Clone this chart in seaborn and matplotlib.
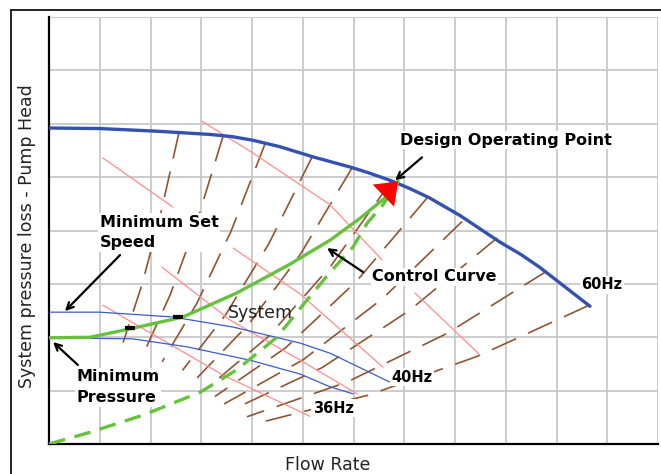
import matplotlib
matplotlib.use("Agg")
import matplotlib.pyplot as plt
import seaborn as sns
from matplotlib.lines import Line2D

# all values in grid units: flow 0..12, head 0..8
pump60_q = [0.0, 1.0, 2.13, 3.17, 3.6, 4.02, 4.55, 5.2, 5.93, 6.3, 6.72, 7.1, 7.5, 8.1, 8.89, 9.3, 9.67, 10.66]
pump60_h = [5.92, 5.91, 5.86, 5.80, 5.76, 5.69, 5.57, 5.38, 5.19, 5.08, 4.94, 4.79, 4.61, 4.28, 3.78, 3.55, 3.31, 2.58]

pump40_q = [0.0, 1.0, 2.44, 3.63, 4.95, 5.54, 6.76]
pump40_h = [2.47, 2.47, 2.38, 2.19, 1.89, 1.70, 1.14]

pump36_q = [0.0, 1.65, 2.72, 3.96, 4.95, 5.54, 5.99]
pump36_h = [1.99, 1.97, 1.82, 1.57, 1.31, 1.07, 0.94]

control_q = [0.0, 0.81, 1.66, 2.64, 3.70, 4.75, 5.54, 6.13, 6.62, 6.88]
control_h = [1.99, 2.00, 2.17, 2.38, 2.83, 3.37, 3.82, 4.23, 4.61, 4.92]

system_q = [0.0, 0.81, 1.85, 2.98, 3.70, 4.49, 5.00, 5.54, 5.99, 6.27, 6.58, 6.88]
system_h = [0.0, 0.22, 0.54, 0.97, 1.39, 2.00, 2.60, 3.22, 3.69, 4.14, 4.48, 4.92]

# brown dashed system curves, listed from the 60Hz curve downwards
sys_curves_q = [
    [2.56, 2.19, 1.83, 1.46],
    [3.43, 2.91, 2.39, 1.87],
    [4.26, 3.58, 2.91, 2.23],
    [5.18, 4.33, 3.48, 2.63],
    [5.97, 4.95, 3.94, 2.92],
    [6.76, 5.55, 4.33, 3.12],
    [7.45, 6.06, 4.66, 3.27],
    [8.14, 6.58, 5.01, 3.45],
    [8.83, 7.10, 5.38, 3.65],
    [9.81, 7.84, 5.87, 3.90],
    [10.62, 8.46, 6.31, 4.15],
]
sys_curves_h = [
    [5.83, 4.27, 2.98, 1.90],
    [5.77, 4.15, 2.80, 1.71],
    [5.63, 3.97, 2.63, 1.54],
    [5.37, 3.75, 2.42, 1.38],
    [5.17, 3.55, 2.25, 1.24],
    [4.94, 3.33, 2.02, 1.05],
    [4.61, 3.05, 1.80, 0.89],
    [4.17, 2.73, 1.58, 0.75],
    [3.86, 2.50, 1.43, 0.66],
    [3.24, 2.07, 1.16, 0.51],
    [2.59, 1.65, 0.92, 0.40],
]

# thin red lines
red_q = [
    [1.06, 2.44],
    [3.01, 4.02, 5.54, 6.56],
    [3.63, 4.95, 6.58],
    [2.23, 3.57, 4.95, 6.07],
    [1.06, 3.43, 5.14],
    [7.21, 8.49],
]
red_h = [
    [5.36, 4.44],
    [6.05, 5.45, 4.48, 3.45],
    [3.67, 2.81, 1.44],
    [3.31, 2.32, 1.57, 0.94],
    [2.60, 1.29, 0.52],
    [2.83, 1.67],
]

mark_q = [1.60, 2.54]
mark_h = [2.17, 2.38]

sns.set_style("white")
plt.rcParams["lines.scale_dashes"] = False
plt.rcParams["font.family"] = ["DejaVu Sans"]

fig = plt.figure(figsize=(6.61, 4.74), dpi=100)
ax = fig.add_axes([49 / 661, 30 / 474, 609 / 661, 427 / 474])

brown = "#8f5530"
for qq, hh in zip(sys_curves_q, sys_curves_h):
    sns.lineplot(x=qq, y=hh, ax=ax, color=brown, linewidth=1.2, sort=False,
                 estimator=None, linestyle=(0, (19, 9.5)), zorder=2)

for qq, hh in zip(red_q, red_h):
    sns.lineplot(x=qq, y=hh, ax=ax, color="#ff8c8c", linewidth=0.9, sort=False,
                 estimator=None, zorder=2)

blue = "#3352b0"
sns.lineplot(x=pump60_q, y=pump60_h, ax=ax, color=blue, linewidth=2.4, sort=False, estimator=None, zorder=4)
sns.lineplot(x=pump40_q, y=pump40_h, ax=ax, color="#3a5cc8", linewidth=0.9, sort=False, estimator=None, zorder=3)
sns.lineplot(x=pump36_q, y=pump36_h, ax=ax, color="#3a5cc8", linewidth=0.9, sort=False, estimator=None, zorder=3)

green = "#66c23d"
sns.lineplot(x=system_q, y=system_h, ax=ax, color=green, linewidth=2.4, sort=False,
             estimator=None, linestyle=(0, (12, 7)), zorder=5)
sns.lineplot(x=control_q, y=control_h, ax=ax, color=green, linewidth=2.4, sort=False,
             estimator=None, zorder=5)
sns.scatterplot(x=mark_q, y=mark_h, ax=ax, color="black", marker="_", s=60,
                linewidth=3, zorder=6)

# red arrow head at the design point
ax.annotate("", xy=(control_q[-1], control_h[-1]), xytext=(control_q[-3], control_h[-3]),
            arrowprops=dict(arrowstyle="-|>,head_length=0.4,head_width=0.3", color="red",
                            lw=0, mutation_scale=37, shrinkA=0, shrinkB=0), zorder=7)

bbox = dict(facecolor="white", edgecolor="none", pad=1)
bold = dict(fontsize=11.5, fontweight="bold", color="black", zorder=8)
arrow = dict(arrowstyle="->", color="black", lw=1.6, mutation_scale=12, shrinkA=0, shrinkB=0)

ax.text(9.0, 5.69, "Design Operating Point", ha="center", va="center", bbox=bbox, **bold)
ax.annotate("", xy=(6.82, 4.94), xytext=(7.35, 5.37), arrowprops=arrow, zorder=8)

ax.text(1.0, 3.96, "Minimum Set\nSpeed", ha="left", va="center", linespacing=1.45, bbox=bbox, **bold)
ax.annotate("", xy=(0.315, 2.49), xytext=(1.40, 3.54), arrowprops=arrow, zorder=8)

ax.text(0.55, 1.06, "Minimum\nPressure", ha="left", va="center", linespacing=1.5, bbox=bbox, **bold)
ax.annotate("", xy=(0.08, 1.91), xytext=(0.57, 1.48), arrowprops=arrow, zorder=8)

ax.text(7.59, 3.13, "Control Curve", ha="center", va="center", bbox=bbox, **bold)
ax.annotate("", xy=(5.48, 3.67), xytext=(6.19, 3.22), arrowprops=arrow, zorder=8)

hz = dict(fontsize=10.5, fontweight="bold", color="black", zorder=8, ha="center", va="center", bbox=bbox)
ax.text(10.9, 2.98, "60Hz", **hz)
ax.text(7.15, 1.25, "40Hz", **hz)
ax.text(5.6, 0.67, "36Hz", **hz)
ax.text(4.16, 2.45, "System", fontsize=12.5, color="#222222", ha="center", va="center", zorder=8)

ax.set_xlim(0, 12)
ax.set_ylim(0, 8)
ax.set_xticks(range(0, 13))
ax.set_yticks(range(0, 9))
ax.set_xticklabels([])
ax.set_yticklabels([])
ax.tick_params(length=0)
ax.grid(True, color="#c8c8c8", linewidth=1.3, zorder=0)
ax.set_axisbelow(True)
for side in ["top", "right"]:
    ax.spines[side].set_visible(False)
for side in ["left", "bottom"]:
    ax.spines[side].set_color("black")
    ax.spines[side].set_linewidth(1.6)

ax.set_xlabel("Flow Rate", fontsize=12.5, color="#222222")
ax.set_ylabel("System pressure loss - Pump Head", fontsize=12.5, color="#222222")
ax.xaxis.set_label_coords(0.458, -0.028)
ax.yaxis.set_label_coords(-0.021, 0.487)

# outer frame of the picture
fig.add_artist(Line2D([11 / 661, 11 / 661], [0, 1 - 10 / 474], color="black", lw=1.2))
fig.add_artist(Line2D([11 / 661, 1], [1 - 10 / 474, 1 - 10 / 474], color="black", lw=1.2))

fig.savefig("out.png", dpi=100)
